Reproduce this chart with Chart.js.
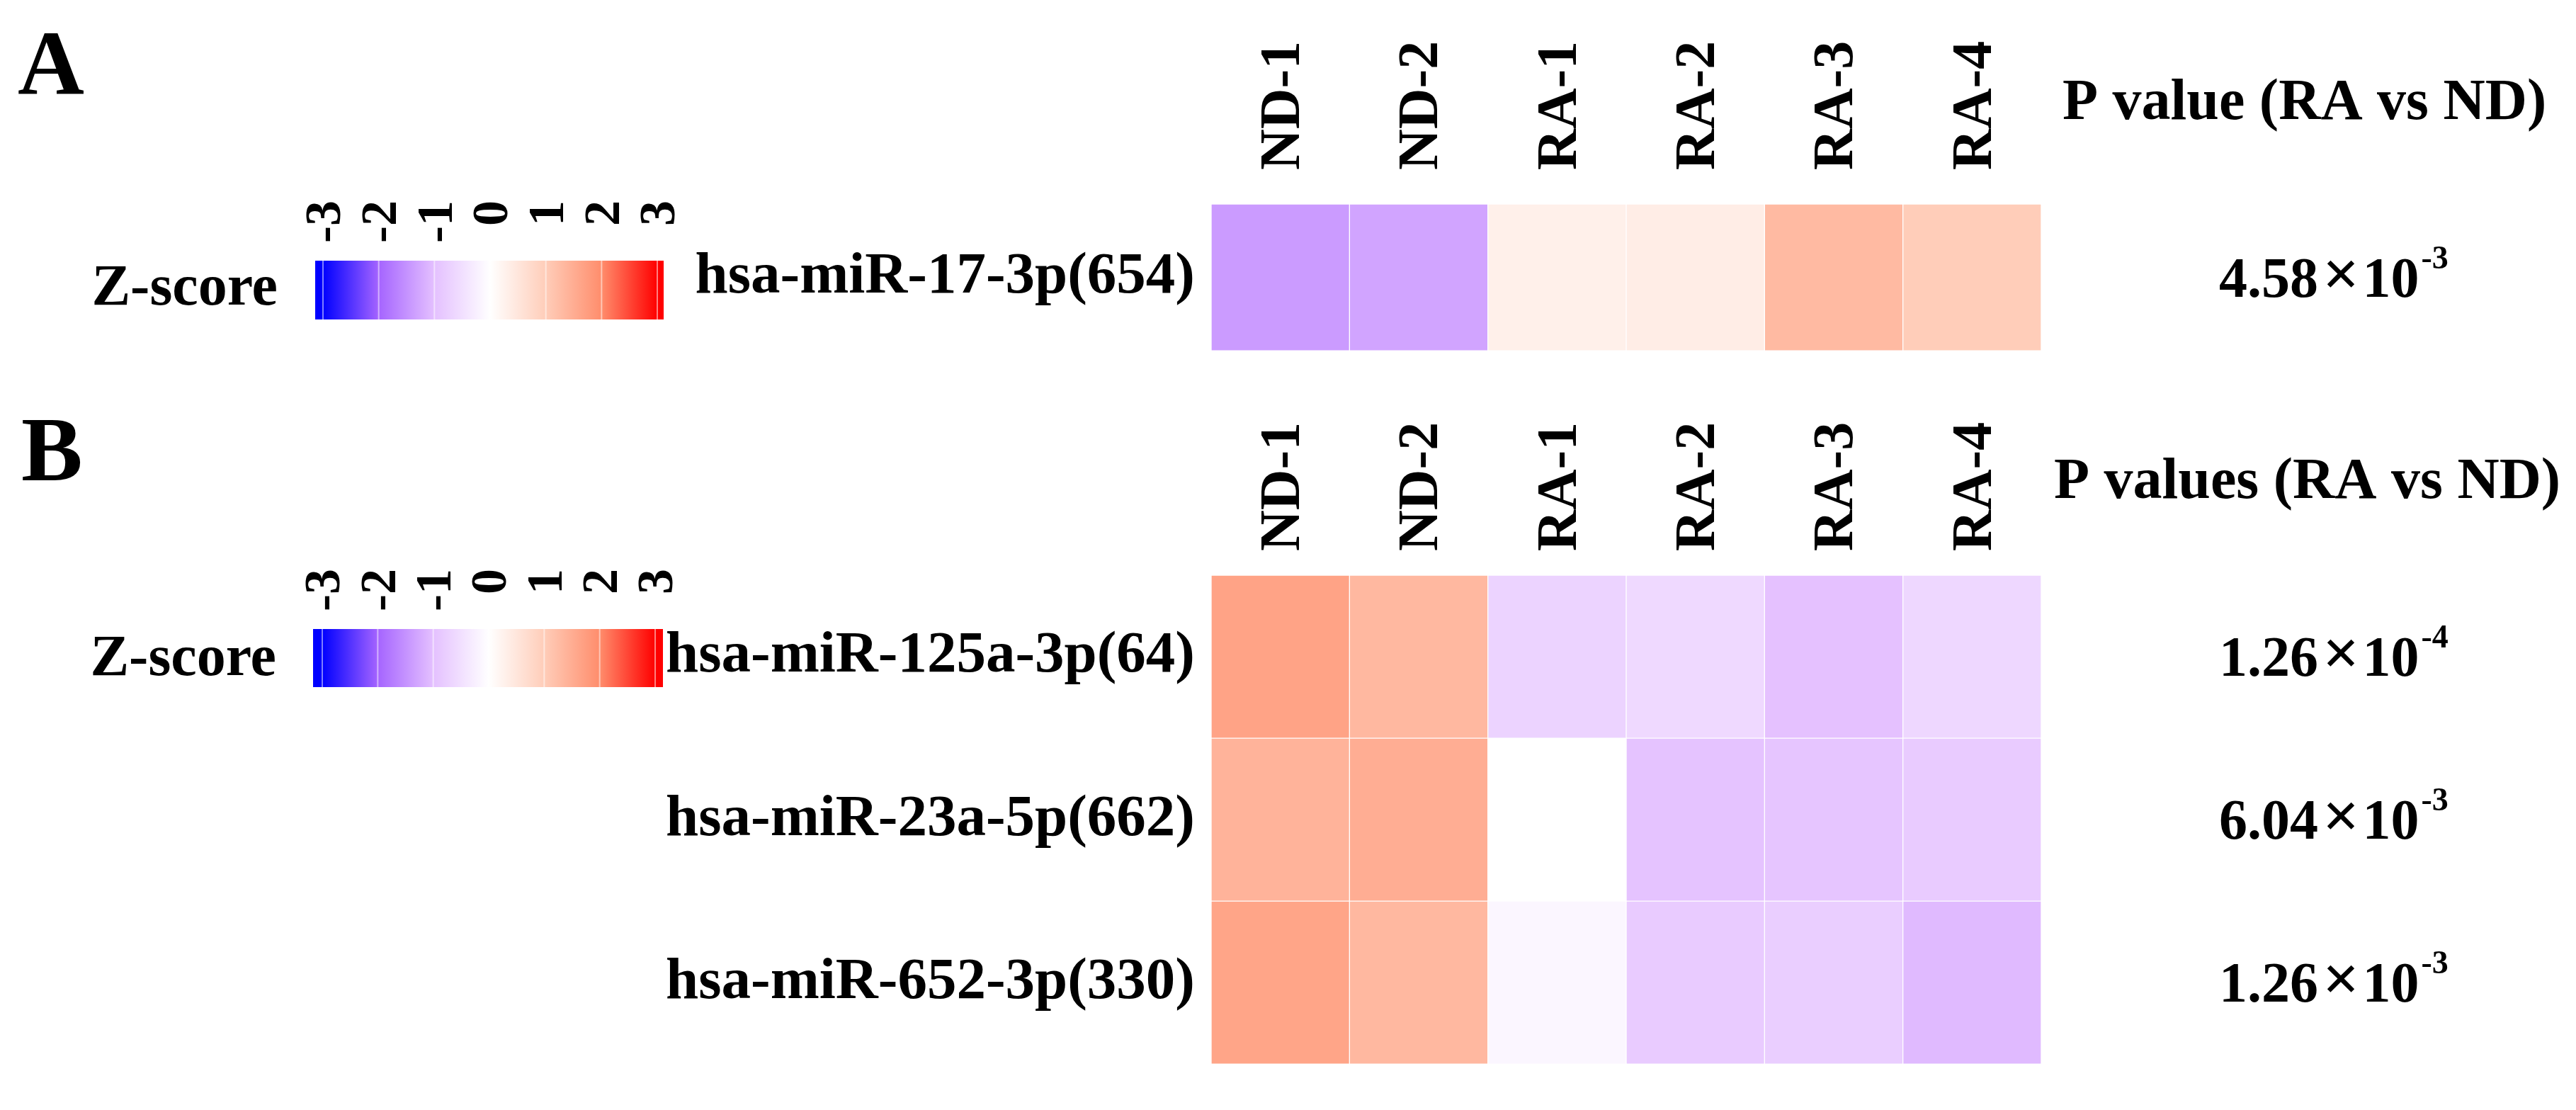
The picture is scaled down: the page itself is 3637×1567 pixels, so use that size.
<!DOCTYPE html>
<html>
<head>
<meta charset="utf-8">
<script src="https://cdn.jsdelivr.net/npm/chart.js@4.4.1/dist/chart.umd.min.js"></script>
<style>
  body { margin: 0; background: #fff; }
  #wrap { position: relative; width: 3637px; height: 1567px; }
  canvas { position: absolute; left: 0; }
</style>
</head>
<body>
<div id="wrap">
  <canvas id="chartA" width="3637" height="560" style="top:0px"></canvas>
  <canvas id="chartB" width="3637" height="1007" style="top:560px"></canvas>
</div>
<script>
// data
const samples = ['ND-1', 'ND-2', 'RA-1', 'RA-2', 'RA-3', 'RA-4'];
const zTicks = [-3, -2, -1, 0, 1, 2, 3];

const mirA = ['hsa-miR-17-3p(654)'];
const zA = [[-1.4, -1.3, 0.3, 0.36, 1.3, 1.0]];
const pMantA = [4.58];
const pExpA = [-3];

const mirB = ['hsa-miR-125a-3p(64)', 'hsa-miR-23a-5p(662)', 'hsa-miR-652-3p(330)'];
const zB = [
  [1.66, 1.33, -0.7, -0.6, -0.98, -0.63],
  [1.4, 1.5, 0, -0.95, -0.92, -0.82],
  [1.63, 1.33, -0.15, -0.82, -0.78, -1.06]
];
const pMantB = [1.26, 6.04, 1.26];
const pExpB = [-4, -3, -3];

// colour scale (blue - white - red)
const stops = [
  [-3, [0, 0, 255]], [-2, [165, 100, 255]], [-1, [228, 192, 255]], [0, [255, 255, 255]],
  [1, [255, 205, 185]], [2, [255, 141, 108]], [3, [255, 0, 0]]
];
function zColor(z) {
  z = Math.max(-3, Math.min(3, z));
  for (let i = 0; i < stops.length - 1; i++) {
    const [z0, c0] = stops[i], [z1, c1] = stops[i + 1];
    if (z <= z1) {
      const t = (z - z0) / (z1 - z0);
      return 'rgb(' + c0.map((v, k) => Math.round(v + (c1[k] - v) * t)).join(',') + ')';
    }
  }
}

const serif = '"Liberation Serif", "Times New Roman", serif';
const bold = (s) => 'bold ' + s + 'px ' + serif;

function decor(o, mant, expo) {
  return {
    id: 'decor',
    afterDraw(chart) {
      const ctx = chart.ctx;
      const xs = chart.scales.x, ys = chart.scales.y;
      ctx.save();
      ctx.fillStyle = '#000';
      ctx.textBaseline = 'alphabetic';

      // panel letter
      ctx.font = bold(130);
      ctx.textAlign = 'left';
      ctx.fillText(o.letter, o.letterX, o.letterY);

      // Z-score colour bar
      ctx.font = bold(82);
      ctx.textAlign = 'right';
      ctx.fillText('Z-score', o.zX, o.zY);

      const b = o.bar;
      const tx = (v) => b.t0 + (v + 3) / 6 * (b.t1 - b.t0);
      const g = ctx.createLinearGradient(b.x0, 0, b.x1, 0);
      g.addColorStop(0, zColor(-3));
      stops.forEach(s => g.addColorStop((tx(s[0]) - b.x0) / (b.x1 - b.x0), zColor(s[0])));
      g.addColorStop(1, zColor(3));
      ctx.fillStyle = g;
      ctx.fillRect(b.x0, b.y0, b.x1 - b.x0, b.y1 - b.y0);

      ctx.strokeStyle = 'rgba(255,255,255,0.5)';
      ctx.lineWidth = 2;
      zTicks.forEach(t => {
        if (t === 0) return;
        ctx.beginPath();
        ctx.moveTo(tx(t), b.y0);
        ctx.lineTo(tx(t), b.y1);
        ctx.stroke();
      });

      ctx.fillStyle = '#000';
      ctx.font = bold(72);
      zTicks.forEach(t => {
        ctx.save();
        ctx.translate(tx(t), o.tickTop);
        ctx.rotate(-Math.PI / 2);
        ctx.textAlign = 'right';
        ctx.fillText(String(t), 0, 72 * 0.34);
        ctx.restore();
      });

      // column labels
      ctx.font = bold(80);
      samples.forEach((s, j) => {
        ctx.save();
        ctx.translate(xs.getPixelForValue(j + 0.5), o.colBottom);
        ctx.rotate(-Math.PI / 2);
        ctx.textAlign = 'left';
        ctx.fillText(s, 0, 80 * 0.33);
        ctx.restore();
      });

      // p values
      ctx.textAlign = 'left';
      ctx.font = bold(82);
      ctx.fillText(o.head, o.headX, o.headY);

      mant.forEach((m, i) => {
        const y = ys.getPixelForValue(i) + 27;
        let x = o.pX;
        ctx.font = bold(80);
        const a = m.toFixed(2);
        ctx.fillText(a, x, y);
        x += ctx.measureText(a).width + 6;
        ctx.font = bold(92);
        ctx.fillText('\u00d7', x, y - 2);
        x += ctx.measureText('\u00d7').width + 4;
        ctx.font = bold(80);
        ctx.fillText('10', x, y);
        x += ctx.measureText('10').width + 3;
        ctx.font = bold(46);
        ctx.fillText(String(expo[i]), x, y - 40);
      });
      ctx.restore();
    }
  };
}

function panel(id, rows, z, mant, expo, o) {
  const datasets = samples.map((s, j) => ({
    label: s,
    data: rows.map(() => 1),
    backgroundColor: rows.map((r, i) => zColor(z[i][j])),
    borderColor: 'rgba(255,255,255,0.3)',
    borderWidth: 1,
    borderSkipped: false,
    barPercentage: 1,
    categoryPercentage: 1
  }));

  new Chart(document.getElementById(id), {
    type: 'bar',
    data: { labels: rows, datasets: datasets },
    options: {
      indexAxis: 'y',
      responsive: false,
      animation: false,
      devicePixelRatio: 1,
      layout: { padding: { left: 0, right: 755, top: o.top, bottom: o.bottom } },
      plugins: { legend: { display: false }, tooltip: { enabled: false } },
      scales: {
        x: { stacked: true, min: 0, max: samples.length, display: false },
        y: {
          stacked: true,
          grid: { display: false },
          border: { display: false },
          ticks: { color: '#000', padding: 15, font: { family: serif, weight: 'bold', size: 83 } },
          afterFit: (s) => { s.width = 1710; }
        }
      }
    },
    plugins: [decor(o, mant, expo)]
  });
}

panel('chartA', mirA, zA, pMantA, pExpA, {
  top: 288, bottom: 49,
  letter: 'A', letterX: 25, letterY: 132,
  zX: 392, zY: 430,
  bar: { x0: 445, x1: 937, y0: 368, y1: 451, t0: 456, t1: 928 },
  tickTop: 283, colBottom: 240,
  head: 'P value (RA vs ND)', headX: 2912, headY: 168,
  pX: 3133
});

panel('chartB', mirB, zB, pMantB, pExpB, {
  top: 252, bottom: 27,
  letter: 'B', letterX: 30, letterY: 118,
  zX: 390, zY: 393,
  bar: { x0: 442, x1: 936, y0: 328, y1: 410, t0: 455, t1: 925 },
  tickTop: 243, colBottom: 218,
  head: 'P values (RA vs ND)', headX: 2900, headY: 143,
  pX: 3133
});
</script>
</body>
</html>
